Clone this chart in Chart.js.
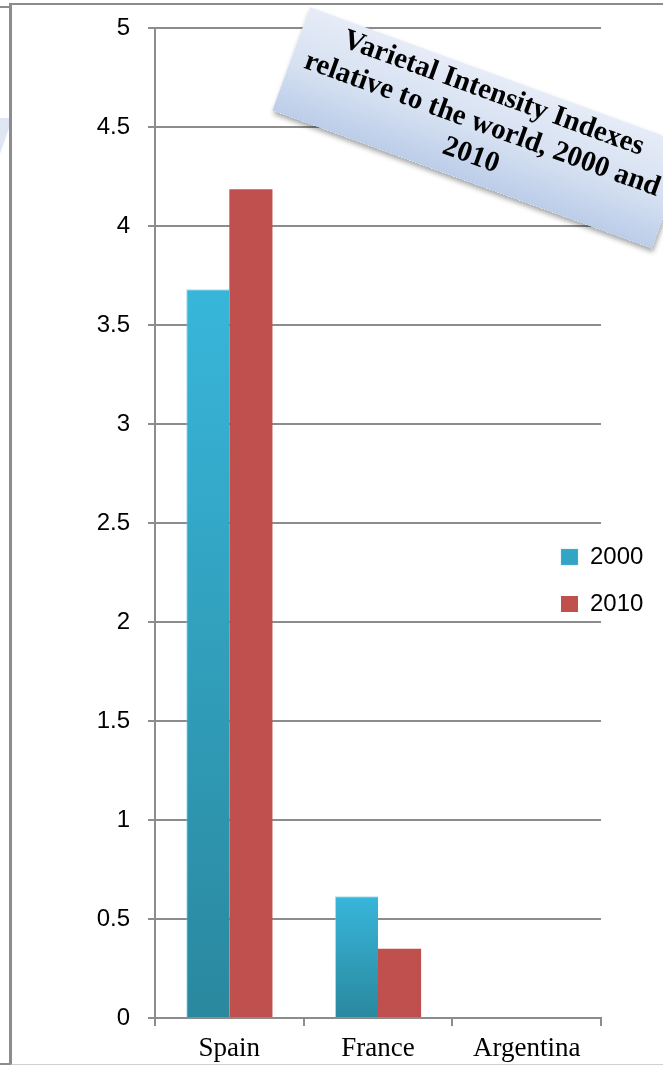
<!DOCTYPE html>
<html>
<head>
<meta charset="utf-8">
<script src="https://cdn.jsdelivr.net/npm/chart.js@4"></script>
<style>
  body { margin: 0; background: #fff; }
  #wrap { position: relative; width: 663px; height: 1065px; overflow: hidden; }
  #chart { position: absolute; left: 0; top: 0; }
  .frame { position: absolute; border: 0 solid #8c8c8c; }
  #titlebox {
    position: absolute; left: 279px; top: 73px; width: 404px; height: 110px;
    transform: rotate(20deg); transform-origin: center;
    background: linear-gradient(to bottom, #e6ecf7 0%, #d5e0f1 55%, #bccde9 100%);
    box-shadow: 2px 3px 5px rgba(0,0,0,0.35);
    font-family: "Liberation Serif", "Times New Roman", serif; font-weight: bold;
    font-size: 29px; line-height: 33px; text-align: center; color: #000;
    padding-top: 0; box-sizing: border-box; white-space: nowrap;
  }
  #frag {
    position: absolute; left: 0; top: 118px; width: 10px; height: 36px;
    background: #dfe6f4; clip-path: polygon(0 0, 100% 0, 100% 20%, 0 100%);
  }
</style>
</head>
<body>
<div id="wrap">
  <canvas id="chart" width="663" height="1065"></canvas>
  <div id="frag"></div>
  <div class="frame" style="left:0;top:6px;width:10px;height:1055px;border-top-width:2px;border-bottom-width:2px;"></div>
  <div class="frame" style="left:9px;top:3px;width:660px;height:1059px;border-top-width:2px;border-left-width:3px;border-bottom:2px solid #cfcfcf;"></div>
  <div id="titlebox">Varietal Intensity Indexes<br>relative to the world, 2000 and<br>2010</div>
</div>

<script>
  const categories = ['Spain', 'France', 'Argentina'];
  const values2000 = [3.68, 0.615, 0];
  const values2010 = [4.185, 0.35, 0];
  const seriesNames = ['2000', '2010'];

  function blueGradient(ctx) {
    const chart = ctx.chart;
    if (!chart.chartArea || ctx.type !== 'data') return '#33a9cc';
    const y = chart.scales.y;
    const top = y.getPixelForValue(ctx.parsed.y);
    const bottom = y.getPixelForValue(0);
    if (!(bottom - top > 1)) return '#33a9cc';
    const g = chart.ctx.createLinearGradient(0, top, 0, bottom);
    g.addColorStop(0, '#38b6da');
    g.addColorStop(1, '#2a889e');
    return g;
  }

  // put the legend where the original has it, on top of the plot at the right
  const legendMover = {
    id: 'legendMover',
    afterLayout(chart) {
      const lg = chart.legend;
      const w = lg.width, h = lg.height;
      lg.left = 538; lg.top = 522;
      lg.right = lg.left + w; lg.bottom = lg.top + h;
    }
  };

  new Chart(document.getElementById('chart'), {
    type: 'bar',
    data: {
      labels: categories,
      datasets: [{
        label: seriesNames[0],
        data: values2000,
        backgroundColor: blueGradient,
        borderColor: 'rgba(120,200,225,0.6)',
        borderWidth: {left: 1, right: 0, top: 1, bottom: 0},
        categoryPercentage: 0.58,
        barPercentage: 1
      }, {
        label: seriesNames[1],
        data: values2010,
        backgroundColor: '#c0504d',
        categoryPercentage: 0.58,
        barPercentage: 1
      }]
    },
    plugins: [legendMover],
    options: {
      responsive: false,
      animation: false,
      layout: { padding: { left: 0, top: 28, right: 62, bottom: 0 } },
      plugins: {
        title: { display: false },
        tooltip: { enabled: false },
        legend: {
          position: 'chartArea',
          align: 'start',
          labels: {
            boxWidth: 17, boxHeight: 16,
            padding: 23,
            color: '#000',
            font: { family: "'Liberation Sans', Arial, sans-serif", size: 24 }
          }
        }
      },
      scales: {
        x: {
          afterFit(scale) { scale.height = 47; },
          grid: { drawOnChartArea: false, drawTicks: true, tickLength: 8, color: '#8c8c8c', lineWidth: 2, offset: true },
          border: { display: true, color: '#8c8c8c', width: 2 },
          ticks: { color: '#000', padding: 7, font: { family: "'Liberation Serif', 'Times New Roman', serif", size: 27 } }
        },
        y: {
          min: 0, max: 5,
          afterFit(scale) { scale.width = 155; scale.paddingTop = 0; scale.paddingBottom = 0; },
          grid: { color: '#8c8c8c', lineWidth: 2, drawTicks: true, tickLength: 7 },
          border: { display: true, color: '#8c8c8c', width: 2 },
          ticks: {
            stepSize: 0.5, color: '#000', padding: 18,
            font: { family: "'Liberation Sans', Arial, sans-serif", size: 24 },
            callback: (v) => String(Number(v.toFixed(2)))
          }
        }
      }
    }
  });
</script>
</body>
</html>
